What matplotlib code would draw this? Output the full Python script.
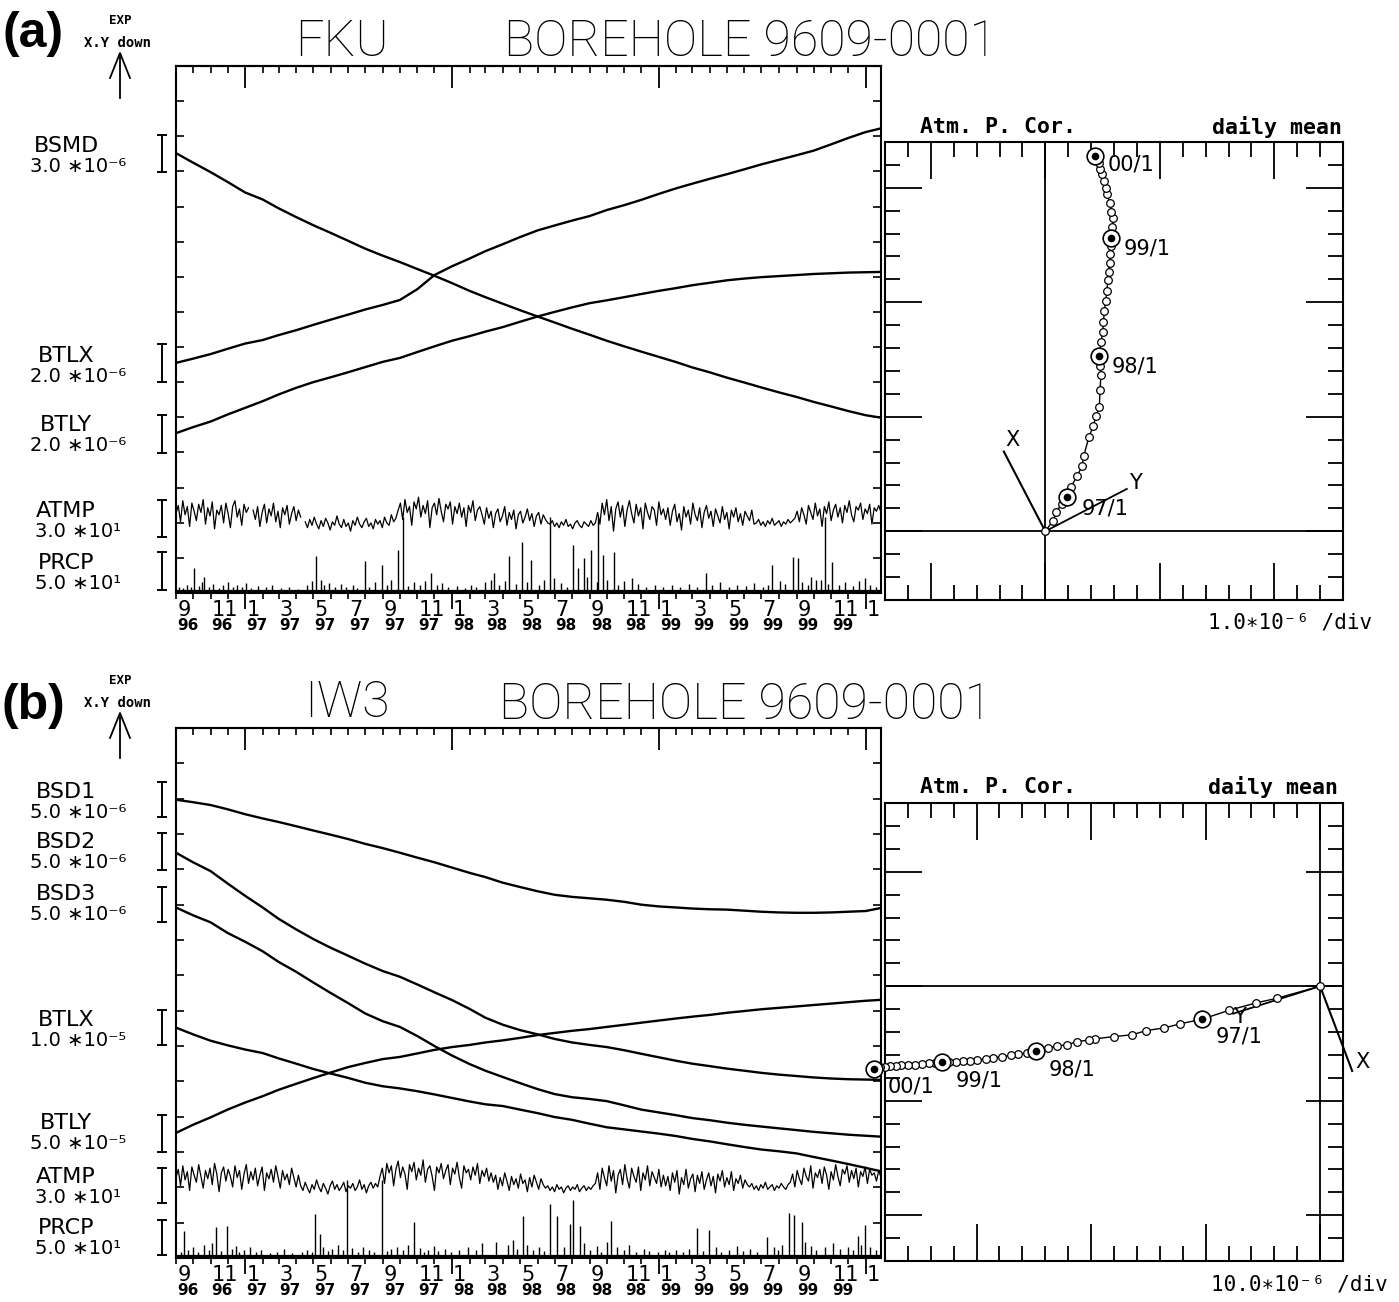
import numpy as np
import pandas as pd
import matplotlib
matplotlib.use("Agg")
import matplotlib.pyplot as plt
from matplotlib.lines import Line2D
from matplotlib.patches import FancyArrowPatch
from matplotlib.ticker import NullFormatter

nan = float("nan")

# ---------------- time base ----------------
START = pd.Timestamp("1996-09-01")
END = pd.Timestamp("2000-01-28")
MONTHS = pd.date_range("1996-09-01", "2000-02-01", freq="MS")   # 42 month starts
MDAY = np.array((MONTHS - START).days, dtype=float)
XMAX = (END - START).days
JAN_IDX = [4, 16, 28, 40]

# ---------------- panel (a) FKU : monthly strain values (x1e-6, relative) ----------------
BSMD_A = [0, -0.81, -1.62, -2.46, -3.36, -3.96, -4.71, -5.46, -6.15, -6.81, -7.47, -8.16,
          -8.76, -9.3, -9.9, -10.47, -11.1, -11.76, -12.3, -12.87, -13.41, -13.95, -14.46,
          -15.0, -15.51, -16.02, -16.5, -16.95, -17.4, -17.85, -18.3, -18.72, -19.17, -19.59,
          -20.01, -20.43, -20.82, -21.24, -21.63, -22.02, -22.38, -22.62]
BTLX_A = [0, 0.24, 0.5, 0.8, 1.1, 1.3, 1.58, 1.86, 2.16, 2.46, 2.74, 3.04, 3.3, 3.58, 4.2,
          5.0, 5.5, 5.94, 6.36, 6.76, 7.16, 7.54, 7.82, 8.1, 8.36, 8.7, 8.98, 9.28, 9.62,
          9.94, 10.2, 10.48, 10.74, 11.02, 11.3, 11.56, 11.82, 12.08, 12.44, 12.8, 13.14, 13.38]
BTLY_A = [0, 0.34, 0.66, 1.06, 1.44, 1.82, 2.2, 2.58, 2.9, 3.18, 3.46, 3.76, 4.06, 4.28,
          4.62, 4.94, 5.26, 5.52, 5.78, 6.04, 6.34, 6.64, 6.9, 7.16, 7.4, 7.56, 7.74, 7.92,
          8.1, 8.26, 8.42, 8.56, 8.7, 8.8, 8.88, 8.94, 9.0, 9.06, 9.1, 9.14, 9.16, 9.18]

# ---------------- panel (b) IW3 ----------------
BSD1_B = [0, -0.35, -0.75, -1.35, -2.05, -2.65, -3.15, -3.75, -4.35, -4.95, -5.55, -6.25,
          -6.85, -7.5, -8.2, -8.85, -9.6, -10.35, -10.95, -11.75, -12.35, -12.95, -13.45,
          -13.75, -13.95, -14.15, -14.45, -14.85, -15.1, -15.25, -15.4, -15.5, -15.55, -15.7,
          -15.85, -15.95, -16.0, -16.0, -15.95, -15.85, -15.75, -15.25]
BSD2_B = [0, -1.35, -2.6, -4.35, -6.1, -7.75, -9.35, -10.85, -12.2, -13.45, -14.55, -15.7,
          -16.75, -17.55, -18.65, -19.75, -20.85, -22.1, -23.35, -24.35, -25.1, -25.7, -26.35,
          -26.85, -27.2, -27.5, -27.95, -28.45, -28.95, -29.45, -29.85, -30.2, -30.55, -30.85,
          -31.15, -31.4, -31.6, -31.8, -31.95, -32.05, -32.1, -32.15]
BSD3_B = [0, -1.1, -2.1, -3.6, -4.85, -6.2, -7.7, -9.1, -10.6, -12.1, -13.5, -15.0, -16.1,
          -16.9, -18.2, -19.6, -20.95, -22.15, -23.1, -24.0, -24.85, -25.7, -26.4, -26.85,
          -27.1, -27.4, -28.0, -28.6, -29.0, -29.4, -29.8, -30.1, -30.45, -30.75, -31.0,
          -31.25, -31.5, -31.75, -31.95, -32.15, -32.3, -32.45]
BTLX_B = [0, -1.9, -3.7, -5.0, -6.2, -7.2, -8.7, -10.2, -11.7, -13.0, -14.2, -15.6, -16.6,
          -17.2, -18.0, -18.9, -19.9, -20.9, -21.7, -22.2, -23.2, -24.2, -25.3, -26.1, -27.2,
          -28.2, -28.8, -29.4, -30.0, -30.7, -31.5, -32.2, -33.0, -33.8, -34.5, -35.0, -35.6,
          -36.6, -37.6, -38.6, -39.7, -40.8]
BTLY_B = [0, 11.5, 22, 33, 43, 52, 61, 69.5, 77.5, 85.5, 93, 99, 104.5, 107.5, 112.5, 117.5,
          121.5, 124.5, 128, 131, 134.5, 138.5, 141.5, 144.5, 147, 150, 153, 156, 159, 162,
          164.5, 167, 170, 172.5, 175, 177, 179, 181, 183, 185, 187, 188.5]

# ---------------- atmospheric pressure anomaly (hPa), 4-day steps ----------------
ATMP_STEP = 4
ATMP_A = [3, 10, -4, 14, 2, 9, -8, 12, 5, -3, 11, 4, 15, -6, 8, 1, 13, -10, 6, 2,
          10, -5, 12, 3, -9, 9, 14, 0, 7, -7, 11, 4, 8, nan,
          6, -2, 9, -8, 4, 11, -5, 7, 1, 12, -4, 5, -9, 8, 2, 10, -6, 3, 9, -3, 6, 0, nan,
          -4, -9, -2, -7, 0, -6, -10, -3, -8, -1, -5, -11, -4, -7, 1, -6, -9, -2, -8, -5,
          -12, -3, -7, 0, -6, -9, -4, -1, -8, -5, -10, -2, -6, -3, -9, 0, -5, -7, 2, -4, -1,
          6, 12, -2, 15, 4, 9, -7, 13, 7, 17, 0, 10, 3, 14, -9, 8, 12, 2, 16, 5,
          -4, 11, 7, 13, -6, 9, 3, 12, 0, 8, -8, 10, 4, 14, -3, 6, 9,
          2, -6, 8, -1, 5, -9, 3, 7, -4, 1, 9, -7, 4, -2, 6, -10, 2, 5, -5, 0,
          7, -3, 3, -8, 1, 4, -6, 2, -2, -5,
          -6, -3, -8, -5, -9, -4, -7, -2, -8, -6, -10, -5, -3, -7, -9, -4, -6, -8, -3, -7, -5,
          4, -6, 12, 2, 15, -3, 9, -12, 7, 13, 0, 10, -8, 6, 14, 3, -5, 11, 1, 8,
          -10, 12, 4, -2, 9, 6, -7, 13, 2, 7,
          -2, 8, -7, 5, 11, -4, 3, -11, 9, 0, 6, -6, 12, 2, -3, 8, -9, 4, 10, -1,
          5, -8, 7, 1, -5, 9, -2, 4, -10, 6, 0, 8, -4, 3, -7, 5, 1, -3, 6, -6,
          -5, -2, -7, -4, -8, -3, -6, -1, -7, -5, -3, -8, -4, -6, -2, -5, -3,
          -1, 5, -4, 8, 2, -6, 10, 4, -2, 12, 1, 7, -8, 9, 3, 13, -3, 6, 11, 0,
          8, -5, 10, 4, 14, 2, -4, 9, 6, 12, -2, 7, 3, 11, -6, 8, 5, 10, 4]
ATMP_B = [2, 9, -5, 12, 0, 7, -9, 11, 4, -2, 13, 3, -7, 8, 1, 10, -4, 14, 5, -10,
          6, 11, -1, 9, 3, -6, 12, 2, 8, -8, 5, 13, -3, 7, 0, 10, -5, 4, 11, -9,
          6, 1, 9, -2, 12, 3, -7, 8, 0, 5, -4, 10, 2, -6, 4,
          -5, -9, -2, -7, -11, -4, -8, 0, -6, -10, -3, -7, -12, -5, -1, -8, -4, -9, -6, -2,
          -10, -5, -7, -3, -9, -6, 0, -8, -4, -11, -5, -2, -7, -3, -6,
          3, 10, -3, 14, 6, 12, -5, 9, 16, 2, 11, 5, -8, 13, 7, 15, 0, 10, 4, 17,
          -2, 9, 12, 3, -9, 11, 6, 14, 1, 8, 13, -4, 10, 5, 15, 2, -7, 12, 6, 9,
          0, 11, 4, 14, -3, 8, 3, 10, -1, 6,
          -2, 4, -8, 2, -5, 6, -1, -9, 3, -4, 1, -7, 5, -3, 0, -10, 2, -6, 4, -2, -8, 1, -4,
          -7, -5, -9, -6, -10, -4, -8, -6, -11, -7, -5, -9, -6, -8, -4, -10, -7, -5, -9, -6,
          -8, -5,
          -3, 6, -8, 10, 2, -5, 12, -1, 8, -11, 4, 9, -4, 13, 1, -7, 10, 3, -2, 11,
          -9, 6, 0, 12, -5, 7, 2, -3, 9, -6, 4,
          -5, 3, -9, 6, -2, 8, -12, 2, -4, 9, -7, 1, 5, -10, 4, -3, 7, -8, 0, 6,
          -5, 3, -11, 5, -1, 8, -6, 2, -4, 7, -9, 1, -3, 4, -7, 0, -4,
          -6, -3, -8, -5, -9, -4, -7, -2, -8, -6, -4, -9, -5, -7, -3, -6, -8, -4,
          -2, 5, -6, 8, 1, -4, 10, 3, -1, 12, -7, 6, 2, 9, -3, 11, 4, -8, 7, 0,
          13, 3, -5, 9, 5, 12, -2, 8, 1, 10, -6, 7, 3, 11, -3, 9, 4, 6, -1, 8, 2]
ATMP_DROP_A = [401, 660, 745, 1146]     # days with missing pressure (line drops to zero)
ATMP_DROP_B = [302, 364]

# ---------------- precipitation (day since 1996-09-01, mm) ----------------
PRCP_A_DAY = [32, 49, 247, 334, 364, 392, 450, 562, 588, 611, 627, 667, 701, 710, 720, 733,
              754, 772, 805, 936, 1052, 1088, 1098, 1121, 1139, 1158, 1215,
              5, 12, 20, 27, 40, 45, 58, 66, 75, 83, 92, 100, 108, 117, 124, 132, 145, 158,
              170, 185, 200, 215, 232, 240, 255, 262, 270, 280, 292, 300, 312, 320, 340, 352,
              372, 380, 410, 420, 430, 440, 460, 470, 480, 495, 510, 520, 530, 545, 555, 570,
              580, 600, 620, 640, 650, 680, 690, 725, 742, 760, 780, 790, 815, 830, 845, 860,
              875, 890, 905, 920, 945, 960, 975, 990, 1005, 1020, 1035, 1045, 1065, 1075,
              1105, 1115, 1130, 1150, 1170, 1180, 1195, 1205, 1225, 1235]
PRCP_A_MM = [33, 20, 50, 43, 37, 58, 26, 26, 50, 70, 44, 18, 65, 33, 47, 58,
             51, 55, 18, 26, 37, 48, 47, 20, 16, 41, 18,
             6, 4, 9, 5, 7, 12, 5, 10, 4, 8, 12, 6, 9, 5, 11, 4, 7, 5,
             8, 4, 6, 3, 9, 14, 16, 8, 11, 6, 10, 5, 8, 4, 6, 12,
             9, 15, 7, 12, 9, 14, 8, 11, 5, 7, 4, 9, 6, 12, 16, 8,
             14, 10, 12, 9, 15, 11, 6, 20, 12, 15, 9, 14, 10, 6, 9, 5,
             8, 6, 10, 5, 8, 12, 6, 9, 7, 11, 5, 9, 14, 10,
             12, 8, 15, 10, 9, 12, 7, 14, 9, 6]
PRCP_B_DAY = [14, 71, 90, 245, 254, 420, 613, 660, 673, 696, 701, 712, 768, 920, 941, 1042,
              1082, 1091, 1104, 1203, 1215,
              8, 22, 30, 38, 50, 58, 64, 80, 98, 105, 112, 120, 130, 142, 150, 165, 178, 190,
              205, 222, 232, 240, 260, 268, 276, 285, 295, 310, 322, 330, 340, 350, 372, 380,
              390, 400, 410, 430, 438, 445, 455, 462, 475, 485, 500, 515, 530, 540, 565, 585,
              595, 602, 620, 630, 640, 650, 685, 720, 730, 742, 750, 760, 778, 790, 800, 812,
              825, 835, 850, 862, 870, 882, 895, 905, 930, 952, 962, 975, 990, 1000, 1012,
              1025, 1055, 1063, 1070, 1110, 1120, 1130, 1145, 1160, 1172, 1185, 1195, 1208,
              1225, 1235]
PRCP_B_MM = [35, 41, 42, 59, 31, 48, 57, 74, 57, 45, 79, 42, 50, 40, 37, 27,
             61, 58, 48, 28, 44,
             5, 8, 12, 6, 15, 9, 18, 7, 10, 14, 6, 9, 12, 5, 8, 4, 6, 10,
             4, 6, 9, 5, 12, 7, 10, 15, 8, 11, 6, 12, 9, 5, 7, 10,
             13, 8, 15, 11, 6, 9, 14, 7, 10, 6, 8, 12, 9, 18, 20, 15,
             22, 10, 16, 9, 13, 7, 12, 18, 9, 14, 6, 20, 12, 8, 15, 6,
             10, 7, 5, 9, 6, 8, 5, 10, 7, 12, 6, 8, 14, 7, 10,
             6, 12, 8, 15, 20, 14, 9, 12, 18, 10, 13, 8, 16,
             12, 9]

# ---------------- hodographs (monthly, x1e-6) ----------------
HX_A = [0, 0.33, 0.48, 0.71, 0.93, 1.13, 1.38, 1.61, 1.68, 1.91, 2.09, 2.21, 2.36, 2.39,
        2.43, 2.39, 2.36, 2.43, 2.51, 2.54, 2.58, 2.63, 2.69, 2.73, 2.76, 2.81, 2.84, 2.85,
        2.88, 2.93, 2.96, 2.88, 2.81, 2.7, 2.63, 2.58, 2.48, 2.39, 2.33, 2.24, 2.16]
HY_A = [0, 0.45, 0.83, 1.2, 1.5, 1.95, 2.4, 2.85, 3.3, 4.13, 4.58, 5.03, 5.41, 6.16, 6.83,
        7.2, 7.66, 8.26, 8.71, 9.16, 9.61, 10.06, 10.5, 10.96, 11.34, 11.71, 12.09, 12.46,
        12.8, 13.29, 13.66, 13.96, 14.34, 14.71, 15.0, 15.3, 15.6, 15.84, 16.1, 16.25, 16.37]
HX_B = [0, -19, -28, -40, -51.5, -61, -68, -76, -82, -90, -98.5, -101, -106, -110.5, -115,
        -119, -124, -128, -132, -135, -139, -143, -146, -150, -153, -156, -159, -162, -165,
        -168, -171, -174, -177, -180, -183, -185, -188, -190, -192, -194, -195]
HY_B = [0, -5.3, -7.3, -10.6, -14.4, -16.4, -18.2, -19.4, -21.2, -22, -23, -23.5, -24.2,
        -25.5, -26.2, -27, -28.5, -29.2, -29.7, -30.2, -30.8, -31.3, -31.8, -32.2, -32.6,
        -32.8, -33, -33, -33, -33.4, -33.7, -34, -34.2, -34.4, -34.6, -34.8, -35, -35.2,
        -35.5, -35.7, -36]
JAN_LABELS = ["97/1", "98/1", "99/1", "00/1"]

# ---------------- figure ----------------
W, H = 1399, 1302
fig = plt.figure(figsize=(W / 100, H / 100), dpi=100)
fig.patch.set_facecolor("white")
plt.rcParams["font.family"] = ["DejaVu Sans"]
PT = 0.72  # points per pixel


def fx(px):
    return px / W


def fy(py):
    return 1 - py / H


def ftext(px, py, s, **kw):
    kw.setdefault("ha", "center")
    kw.setdefault("va", "center")
    fig.text(fx(px), fy(py), s, **kw)


def fline(xs, ys, lw=1.4):
    fig.add_artist(Line2D([fx(x) for x in xs], [fy(y) for y in ys],
                          transform=fig.transFigure, color="k", lw=lw))


def scale_bar(x, y0, y1):
    fline([x, x], [y0, y1], lw=1.4)
    fline([x - 4, x + 4], [y0, y0], lw=1.4)
    fline([x - 4, x + 4], [y1, y1], lw=1.4)


def left_panel(top, bottom, traces, atmp, atmp_off, drops, pday, pmm, poff):
    ax = fig.add_axes([fx(176), fy(bottom), 705 / W, (bottom - top) / H])
    ax.set_xlim(0, XMAX)
    ax.set_ylim(0, 15)
    for vals, scale, off in traces:
        ax.plot(MDAY, off + np.asarray(vals) / scale, color="k", lw=1.7,
                solid_joinstyle="round")
    aday = np.arange(len(atmp)) * ATMP_STEP
    ax.plot(aday, atmp_off + np.asarray(atmp, dtype=float) / 30.0, color="k", lw=0.9)
    ax.vlines(drops, poff, atmp_off, color="k", lw=1.0)
    ax.vlines(pday, poff, poff + np.asarray(pmm) / 50.0, color="k", lw=1.0)
    ax.axhline(poff, color="k", lw=1.6)
    for s in ax.spines.values():
        s.set_linewidth(1.5)
    # x ticks (bottom: outward)
    ax.set_xticks(MDAY[JAN_IDX])
    ax.set_xticks(MDAY[MDAY <= XMAX], minor=True)
    ax.tick_params(axis="x", which="major", direction="out", length=16 * PT, width=1.3,
                   top=False, labelbottom=False)
    ax.tick_params(axis="x", which="minor", direction="out", length=6 * PT, width=1.2,
                   top=False)
    sec = ax.secondary_xaxis("top")
    sec.set_xticks(MDAY[JAN_IDX])
    sec.set_xticks(MDAY[MDAY <= XMAX], minor=True)
    sec.xaxis.set_major_formatter(NullFormatter())
    sec.tick_params(which="major", direction="in", length=22 * PT, width=1.3)
    sec.tick_params(which="minor", direction="in", length=7 * PT, width=1.2)
    sec.spines["top"].set_linewidth(1.5)
    ax.set_yticks(np.arange(0, 16))
    ax.tick_params(axis="y", direction="in", length=8 * PT, width=1.2, left=True,
                   right=True, labelleft=False)
    # month / year labels
    for k in range(0, 41, 2):
        d = MDAY[k]
        ax.text(d + 2, -0.2, str(MONTHS[k].month), ha="left", va="top", fontsize=15)
        if k < 40:
            ax.text(d + 2, -0.72, "%02d" % (MONTHS[k].year % 100), ha="left", va="top",
                    fontsize=11, fontweight="bold")
    return ax


def hodo(left, bottom, hx, hy, xlim, ylim, step, xline, yline, xlab, ylab, lab_pos):
    ax = fig.add_axes([fx(left), fy(bottom), 458 / W, 458 / H])
    ax.set_xlim(*xlim)
    ax.set_ylim(*ylim)
    ax.axhline(0, color="k", lw=1.3)
    ax.axvline(0, color="k", lw=1.3)
    ax.plot([0, xline[0]], [0, xline[1]], color="k", lw=1.5, clip_on=False)
    ax.plot([0, yline[0]], [0, yline[1]], color="k", lw=1.3, clip_on=False)
    ax.text(xlab[0], xlab[1], "X", fontsize=15, ha="center", va="center")
    ax.text(ylab[0], ylab[1], "Y", fontsize=15, ha="center", va="center")
    ax.plot(hx, hy, "-", color="k", lw=1.0, marker="o", ms=5.5, mfc="white", mec="k",
            mew=0.9, clip_on=False, zorder=3)
    jx = [hx[i] for i in JAN_IDX]
    jy = [hy[i] for i in JAN_IDX]
    ax.plot(jx, jy, "o", ms=12, mfc="white", mec="k", mew=1.2, clip_on=False, zorder=4)
    ax.plot(jx, jy, "o", ms=4.5, mfc="k", mec="k", clip_on=False, zorder=5)
    for (tx, ty), s in zip(lab_pos, JAN_LABELS):
        ax.text(tx, ty, s, fontsize=15, ha="left", va="center", zorder=6)
    ax.set_xticks(np.arange(np.ceil(xlim[0] / (5 * step)) * 5 * step, xlim[1] + 1e-9,
                            5 * step))
    ax.set_xticks(np.arange(xlim[0], xlim[1] + 1e-9, step), minor=True)
    ax.set_yticks(np.arange(np.ceil(ylim[0] / (5 * step)) * 5 * step, ylim[1] + 1e-9,
                            5 * step))
    ax.set_yticks(np.arange(ylim[0], ylim[1] + 1e-9, step), minor=True)
    ax.tick_params(which="major", direction="in", length=37 * PT, width=1.3, top=True,
                   right=True, labelbottom=False, labelleft=False)
    ax.tick_params(which="minor", direction="in", length=15 * PT, width=1.3, top=True,
                   right=True)
    for s in ax.spines.values():
        s.set_linewidth(1.5)
    return ax


# ===== panel (a) =====
left_panel(66, 593,
           [(BSMD_A, 3.0, 12.52), (BTLX_A, 2.0, 6.55), (BTLY_A, 2.0, 4.55)],
           ATMP_A, 2.16, ATMP_DROP_A, PRCP_A_DAY, PRCP_A_MM, 0.06)
hodo(885, 600, HX_A, HY_A, (-7, 13), (-3, 17), 1.0,
     (-1.81, 3.48), (3.56, 1.85), (-1.44, 3.98), (3.95, 2.1),
     [(1.6, 1.0), (2.9, 7.2), (3.4, 12.35), (2.7, 16.0)])

# ===== panel (b) =====
left_panel(728, 1258,
           [(BSD1_B, 5.0, 12.97), (BSD2_B, 5.0, 11.47), (BSD3_B, 5.0, 9.92),
            (BTLX_B, 10.0, 6.52), (BTLY_B, 50.0, 3.54)],
           ATMP_B, 2.21, ATMP_DROP_B, PRCP_B_DAY, PRCP_B_MM, 0.06)
hodo(885, 1261, HX_B, HY_B, (-190, 10), (-120, 80), 10.0,
     (14, -37), (-38, -12), (18.5, -33), (-35, -13.5),
     [(-45.6, -22), (-118.4, -36.4), (-159, -41), (-189, -44)])

# ---------------- texts ----------------
TITLE = dict(fontsize=36, family=["Roboto", "DejaVu Sans"], fontweight="light")
ftext(342, 42, "FKU", **TITLE)
ftext(750, 42, "BOREHOLE 9609-0001", **TITLE)
ftext(347, 703, "IW3", **TITLE)
ftext(745, 705, "BOREHOLE 9609-0001", **TITLE)

BOLD = dict(fontsize=36, family=["Liberation Sans", "DejaVu Sans"], fontweight="bold")
ftext(33, 34, "(a)", **BOLD)
ftext(33, 706, "(b)", **BOLD)

MONO = ["DejaVu Sans Mono", "DejaVu Sans"]
for yoff in (0, 660):
    ftext(120, 21 + yoff, "EXP", fontsize=9, family=MONO, fontweight="bold")
    ftext(118, 43 + yoff, "X.Y down", fontsize=10, family=MONO, fontweight="bold")
    fig.add_artist(FancyArrowPatch((fx(120), fy(101 + yoff)), (fx(120), fy(53 + yoff)),
                                   transform=fig.transFigure, arrowstyle="-|>,head_length=0",
                                   color="k", lw=1.3))
    fline([110, 120, 130], [78 + yoff, 53 + yoff, 78 + yoff], lw=1.3)

# trace labels: name (bottom edge just above the scale text), scale text, scale bar
for name, sc, ys, b0, b1 in [
        ("BSMD", "3.0 \u221710\u207b\u2076", 166, 135, 172),
        ("BTLX", "2.0 \u221710\u207b\u2076", 376, 344, 382),
        ("BTLY", "2.0 \u221710\u207b\u2076", 445, 415, 453),
        ("ATMP", "3.0 \u221710\u00b9", 531, 500, 537),
        ("PRCP", "5.0 \u221710\u00b9", 583, 552, 590),
        ("BSD1", "5.0 \u221710\u207b\u2076", 812, 782, 817),
        ("BSD2", "5.0 \u221710\u207b\u2076", 862, 833, 870),
        ("BSD3", "5.0 \u221710\u207b\u2076", 914, 887, 922),
        ("BTLX", "1.0 \u221710\u207b\u2075", 1040, 1010, 1045),
        ("BTLY", "5.0 \u221710\u207b\u2075", 1143, 1115, 1152),
        ("ATMP", "3.0 \u221710\u00b9", 1197, 1168, 1203),
        ("PRCP", "5.0 \u221710\u00b9", 1248, 1220, 1255)]:
    ftext(66, ys - 10, name, fontsize=16, va="bottom")
    ftext(78, ys - 9, sc, fontsize=14, va="top")
    scale_bar(162, b0, b1)

HDR = dict(fontsize=15.5, family=MONO, fontweight="bold")
ftext(920, 127, "Atm. P. Cor.", ha="left", **HDR)
ftext(1342, 127, "daily mean", ha="right", **HDR)
ftext(920, 787, "Atm. P. Cor.", ha="left", **HDR)
ftext(1338, 787, "daily mean", ha="right", **HDR)
ftext(1372, 622, "1.0\u221710\u207b\u2076 /div", ha="right", fontsize=15, family=MONO)
ftext(1388, 1285, "10.0\u221710\u207b\u2076 /div", ha="right", fontsize=15, family=MONO)

fig.savefig("out.png", dpi=100, facecolor="white")
